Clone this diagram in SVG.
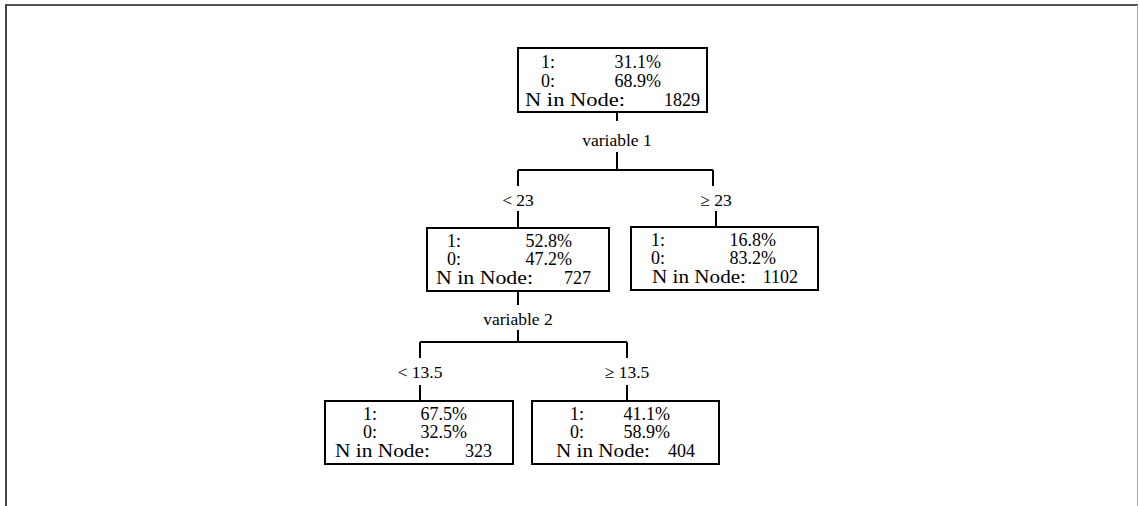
<svg xmlns="http://www.w3.org/2000/svg" width="1139" height="506" viewBox="0 0 1139 506">
<style>
.box{fill:#fff;stroke:#000;stroke-width:2}
.ln{fill:none;stroke:#000;stroke-width:2}
text{font-family:"Liberation Serif","Times New Roman",serif;font-size:17.5px;fill:#000}
.n text{font-size:18px}
.c{text-anchor:middle}
.r{text-anchor:end}
</style>
<rect width="1139" height="506" fill="#fff"/>
<g id="frame">
<line x1="5" y1="5" x2="1138" y2="5" stroke="#555" stroke-width="2"/>
<line x1="6" y1="5" x2="6" y2="506" stroke="#444" stroke-width="2"/>
<line x1="1137.5" y1="5" x2="1137.5" y2="506" stroke="#aaa" stroke-width="1"/>
</g>
<g id="connectors">
<path class="ln" d="M617 112V121M617 152V170M518 170H713M518 170V186M713 170V186M518 211V228M716 211V227"/>
<path class="ln" d="M518 291V305M518 330V342M420 342H627M420 342V358M627 342V358M420 385V401M627 385V401"/>
</g>
<g id="labels">
<text class="c" x="617" y="146">variable 1</text>
<text class="c" x="518" y="206">&lt; 23</text>
<text class="c" x="716" y="206">≥ 23</text>
<text class="c" x="518" y="325">variable 2</text>
<text class="c" x="420" y="378">&lt; 13.5</text>
<text class="c" x="627" y="378">≥ 13.5</text>
</g>
<g id="root" class="n">
<rect class="box" x="518" y="48" width="189" height="64"/>
<text x="541" y="68">1:</text><text class="r" x="661" y="68">31.1%</text>
<text x="541" y="87">0:</text><text class="r" x="661" y="87">68.9%</text>
<text x="525" y="106" textLength="100" lengthAdjust="spacingAndGlyphs">N in Node:</text><text class="r" x="700" y="106">1829</text>
</g>
<g id="node-lt23" class="n">
<rect class="box" x="427" y="228" width="182" height="63"/>
<text x="447" y="247">1:</text><text class="r" x="572" y="247">52.8%</text>
<text x="447" y="265">0:</text><text class="r" x="572" y="265">47.2%</text>
<text x="436" y="284" textLength="97" lengthAdjust="spacingAndGlyphs">N in Node:</text><text class="r" x="591" y="284">727</text>
</g>
<g id="node-ge23" class="n">
<rect class="box" x="631" y="227" width="187" height="63"/>
<text x="651" y="246">1:</text><text class="r" x="776" y="246">16.8%</text>
<text x="651" y="264">0:</text><text class="r" x="776" y="264">83.2%</text>
<text x="652" y="283" textLength="94" lengthAdjust="spacingAndGlyphs">N in Node:</text><text class="r" x="798" y="283">1102</text>
</g>
<g id="node-lt135" class="n">
<rect class="box" x="325" y="401" width="188" height="63"/>
<text x="363" y="420">1:</text><text class="r" x="467" y="420">67.5%</text>
<text x="363" y="438">0:</text><text class="r" x="467" y="438">32.5%</text>
<text x="335" y="457" textLength="95" lengthAdjust="spacingAndGlyphs">N in Node:</text><text class="r" x="492" y="457">323</text>
</g>
<g id="node-ge135" class="n">
<rect class="box" x="532" y="401" width="187" height="63"/>
<text x="570" y="420">1:</text><text class="r" x="670" y="420">41.1%</text>
<text x="570" y="438">0:</text><text class="r" x="670" y="438">58.9%</text>
<text x="556" y="457" textLength="94" lengthAdjust="spacingAndGlyphs">N in Node:</text><text class="r" x="695" y="457">404</text>
</g>
</svg>
